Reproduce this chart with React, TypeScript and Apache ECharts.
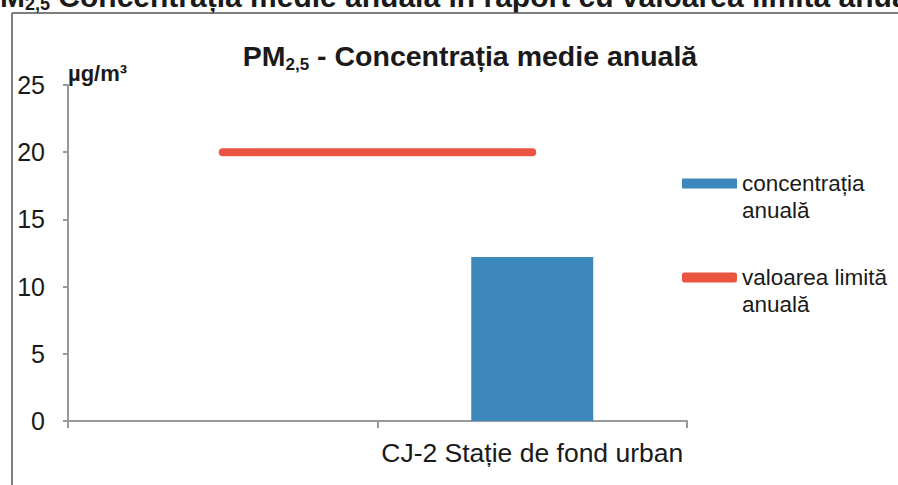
import React, { useEffect, useRef } from "react";
import * as echarts from "echarts";

const categories = ["", "CJ-2 Stație de fond urban"];
const concentration: (number | null)[] = [null, 12.2];
const limitValue = [20, 20];
const yTicks = { min: 0, max: 25, interval: 5 };
const seriesNames = ["concentrația\nanuală", "valoarea limită\nanuală"];

const FONT = "'Liberation Sans', Arial, sans-serif";

export default function App() {
  const ref = useRef<HTMLDivElement>(null);
  useEffect(() => {
    if (!ref.current) return;
    const chart = echarts.init(ref.current, undefined, { renderer: "svg" });
    chart.setOption({
      animation: false,
      backgroundColor: "#ffffff",
      textStyle: { fontFamily: FONT },
      title: {
        text: "{b|PM}{s|2,5}{b| - Concentrația medie anuală}",
        left: 465,
        top: 34,
        textAlign: "center",
        textStyle: {
          rich: {
            b: { fontSize: 28.5, fontWeight: "bold", color: "#1a1a1a", fontFamily: FONT, lineHeight: 34 },
            s: { fontSize: 17, fontWeight: "bold", color: "#1a1a1a", fontFamily: FONT, lineHeight: 18, verticalAlign: "bottom" },
          },
        },
      },
      graphic: [
        {
          type: "text",
          x: -20,
          y: -4,
          style: {
            text: "{b|PM}{s|2,5}{b| Concentrația medie anuală în raport cu valoarea limită anuală}",
            verticalAlign: "middle",
            rich: {
              b: { fontSize: 30, fontWeight: "bold", fill: "#1a1a1a", fontFamily: FONT, lineHeight: 34 },
              s: { fontSize: 18, fontWeight: "bold", fill: "#1a1a1a", fontFamily: FONT, lineHeight: 18, verticalAlign: "bottom" },
            },
          },
        },
        {
          type: "line",
          shape: { x1: 12, y1: 13, x2: 898, y2: 13 },
          style: { stroke: "#555", lineWidth: 1.5 },
        },
        {
          type: "line",
          shape: { x1: 12, y1: 13, x2: 12, y2: 485 },
          style: { stroke: "#555", lineWidth: 1.5 },
        },
      ],
      legend: {
        orient: "vertical",
        left: 677,
        top: 138,
        itemGap: 13,
        itemWidth: 55,
        itemHeight: 10,
        data: [
          { name: seriesNames[0], icon: "rect" },
          { name: seriesNames[1], icon: "roundRect" },
        ],
        formatter: (name: string) => " \n" + name,
        textStyle: {
          fontSize: 22.5,
          lineHeight: 27,
          color: "#1a1a1a",
          fontFamily: FONT,
        },
      },
      grid: { left: 68, right: 211, top: 85, bottom: 64, containLabel: false },
      xAxis: {
        type: "category",
        data: categories,
        axisLine: { lineStyle: { color: "#999", width: 2 } },
        axisTick: { show: true, length: 7, lineStyle: { color: "#999", width: 2 } },
        axisLabel: { interval: 0, hideOverlap: false, fontSize: 26.5, color: "#1a1a1a", margin: 18, fontFamily: FONT },
      },
      yAxis: {
        type: "value",
        min: yTicks.min,
        max: yTicks.max,
        interval: yTicks.interval,
        name: "µg/m³",
        nameLocation: "end",
        nameGap: 1,
        nameTextStyle: {
          fontSize: 22,
          fontWeight: "bold",
          color: "#1a1a1a",
          align: "left",
          fontFamily: FONT,
        },
        axisLine: { show: true, lineStyle: { color: "#999", width: 2 } },
        axisTick: { show: true, length: 5, lineStyle: { color: "#999", width: 2 } },
        axisLabel: { fontSize: 25, color: "#1a1a1a", margin: 23, fontFamily: FONT },
        splitLine: { show: false },
      },
      series: [
        {
          name: seriesNames[0],
          type: "bar",
          data: concentration,
          barWidth: 122,
          itemStyle: { color: "#3c88bc" },
        },
        {
          name: seriesNames[1],
          type: "line",
          data: limitValue,
          symbol: "none",
          lineStyle: { color: "#ea5440", width: 8, cap: "round" },
          itemStyle: { color: "#ea5440" },
        },
      ],
    });
    return () => chart.dispose();
  }, []);
  return <div ref={ref} style={{ width: 898, height: 485, position: "fixed", left: 0, top: 0 }} />;
}
